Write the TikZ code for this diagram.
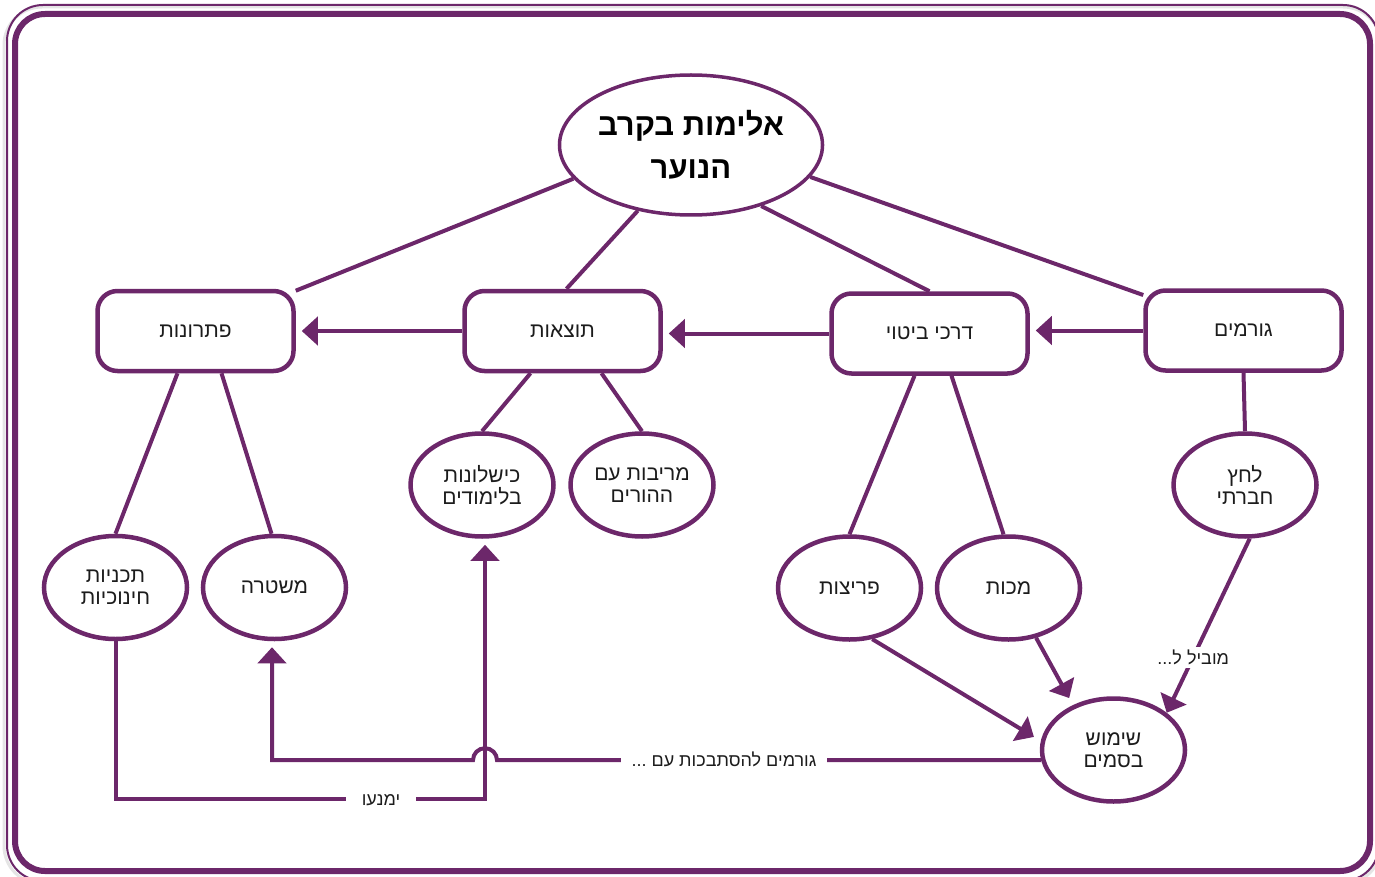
\documentclass[tikz,border=0pt]{standalone}
\usepackage{fontspec}
\setmainfont{Liberation Sans}
\newfontfamily\hebfont[Script=Hebrew]{Liberation Sans}
\TeXXeTstate=1
\usetikzlibrary{arrows.meta,calc,shapes.geometric}
\newcommand{\heb}[1]{\beginR #1\endR}
\definecolor{plum}{RGB}{108,39,106}
\definecolor{ink}{RGB}{28,28,28}

\tikzset{
  txt/.style={text=ink, font=\hebfont\fontsize{21}{22}\selectfont, align=center},
  box/.style={txt, draw=plum, line width=4.5pt, rounded corners=20pt,
              minimum width=196pt, minimum height=80pt, inner sep=0pt},
  oval/.style={txt, ellipse, draw=plum, line width=4.5pt,
               minimum width=143pt, minimum height=103pt, inner sep=0pt},
  con/.style={draw=plum, line width=4pt},
  arr/.style={con, -{Triangle[length=16pt,width=28pt]}},
  lbl/.style={fill=white, text=ink, font=\hebfont\fontsize{18}{20}\selectfont,
              inner ysep=3pt},
}

\begin{document}
\begin{tikzpicture}[x=1pt,y=-1pt]
\useasboundingbox (0,0) rectangle (1375,877);

% frame: soft shade, thin outer line, heavy inner line
\draw[black!10, line width=3pt, rounded corners=38pt] (4,7) rectangle (1381,884);
\draw[plum, line width=2pt, rounded corners=36pt] (7,5) rectangle (1379,881);
\draw[plum, line width=6pt, rounded corners=30pt] (15,14) rectangle (1370,871);

% central topic
\node[ellipse, draw=plum, line width=3.5pt, minimum width=257pt, minimum height=140pt,
      inner sep=0pt, align=center, text=black,
      font=\hebfont\bfseries\fontsize{31}{43}\selectfont]
  (title) at (691,145) {\heb{אלימות בקרב}\\\heb{הנוער}};

% main categories
\node[box] (sol)   at (195.5,331)  {\heb{פתרונות}};
\node[box] (res)   at (562.5,331)  {\heb{תוצאות}};
\node[box] (expr)  at (929.5,333.5) {\heb{דרכי ביטוי}};
\node[box] (cause) at (1243.5,330.5) {\heb{גורמים}};

% sub topics
\node[oval] (edu)    at (115.5,587.5) {\heb{תכניות}\\\heb{חינוכיות}};
\node[oval] (police) at (274.5,587.5) {\heb{משטרה}};
\node[oval] (fail)   at (482,485)     {\heb{כישלונות}\\\heb{בלימודים}};
\node[oval] (fight)  at (642,485)     {\heb{מריבות עם}\\\heb{ההורים}};
\node[oval] (burg)   at (849.5,588)   {\heb{פריצות}};
\node[oval] (hits)   at (1008.5,588)  {\heb{מכות}};
\node[oval] (peer)   at (1245,485)    {\heb{לחץ}\\\heb{חברתי}};
\node[oval] (drugs)  at (1113.5,750)  {\heb{שימוש}\\\heb{בסמים}};

% topic to categories
\draw[con] (title.196) -- (sol);
\draw[con] (title.231) -- ([xshift=4pt]res.north);
\draw[con] (title.-41) -- (expr.north);
\draw[con] (title.-15) -- (cause);

% category chain
\draw[arr, shorten >=6pt] (cause.west) -- (cause.west -| expr.east);
\draw[arr, shorten >=6pt] (expr.west) -- (expr.west -| res.east);
\draw[arr, shorten >=6pt] (res.west) -- (res.west -| sol.east);

% categories to sub topics
\draw[con] ([xshift=-18pt]sol.south) -- (edu.north);
\draw[con] ([xshift=26pt]sol.south) -- ([xshift=-3pt]police.north);
\draw[con] ([xshift=-32pt]res.south) -- (fail.north);
\draw[con] ([xshift=39pt]res.south) -- (fight.north);
\draw[con] ([xshift=-15pt]expr.south) -- (burg.north);
\draw[con] ([xshift=22pt]expr.south) -- ([xshift=-5pt]hits.north);
\draw[con] (cause.south) -- (peer.north);

% into drug use
\draw[arr] (peer.-85) -- (drugs.35)
  node[lbl, pos=0.68] (leads) {\heb{מוביל ל...}};
\draw[arr, shorten >=8pt] (hits.-61) -- (drugs.132);
\draw[arr, shorten >=8pt] (burg.-66) -- (drugs.173);

% crossing point of the two bottom routes
\coordinate (hop) at (485,761);

% education programmes prevent school failure
\draw[arr, shorten >=6pt] (edu.south) -- (edu.south |- 0,799) -- (hop |- 0,799)
  -- (hop |- fail.south);
\node[lbl, inner xsep=16pt] (prevent) at (381,800) {\heb{ימנעו}};

% drug use leads to trouble with the police
\draw[arr, shorten >=6pt] (drugs.188) -- ([xshift=12pt]hop |- drugs.188)
  arc[start angle=0, end angle=180, radius=12pt]
  -- (272,0 |- drugs.188) -- (272,0 |- police.south);
\node[lbl, inner xsep=11pt] (trouble) at (724,759) {\heb{גורמים להסתבכות עם ...}};

\end{tikzpicture}
\end{document}
